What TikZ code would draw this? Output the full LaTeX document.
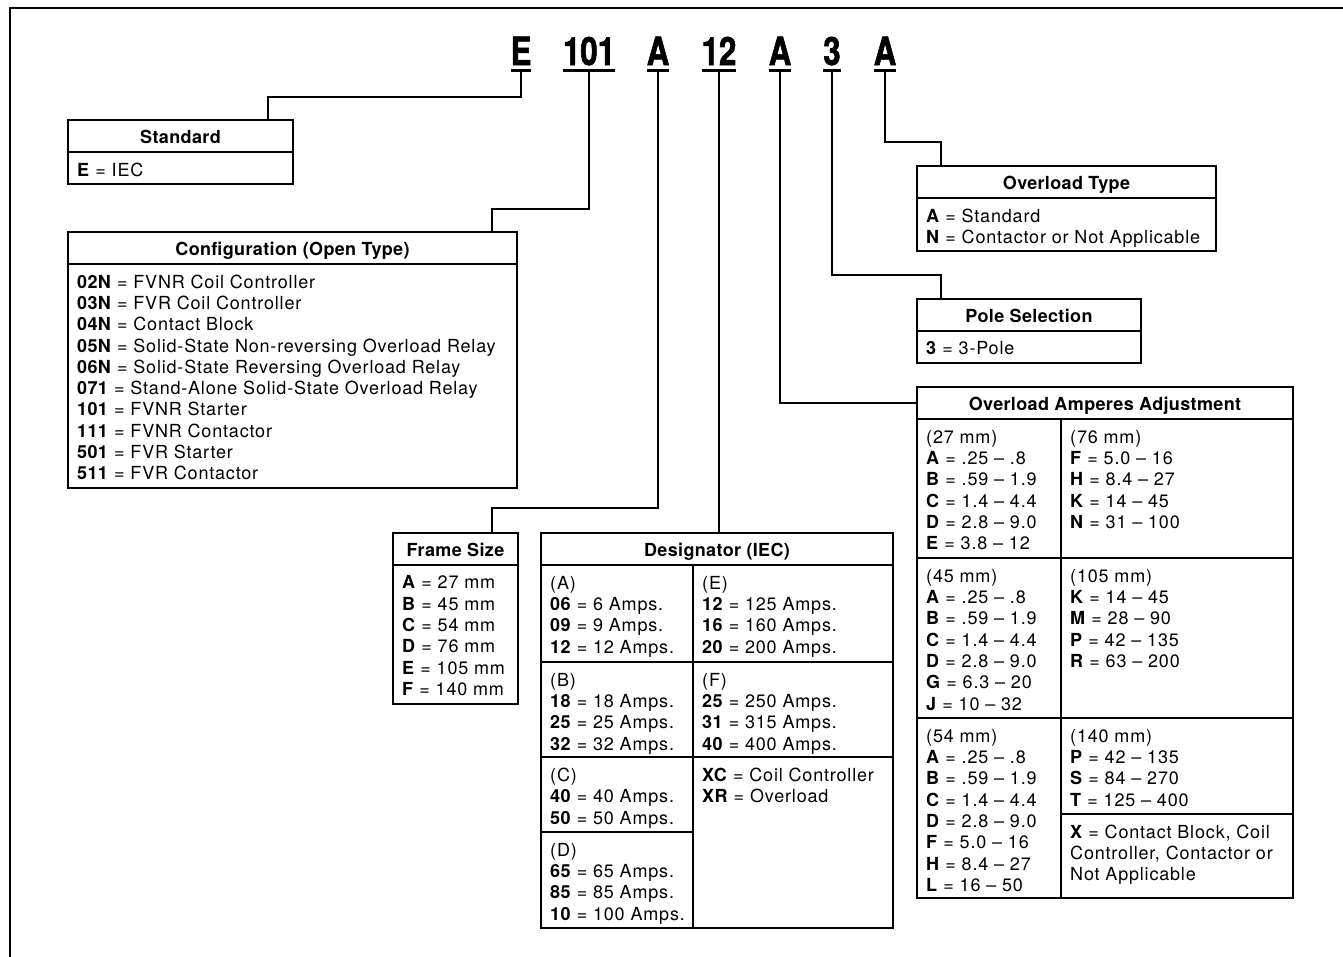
\documentclass[tikz,border=0pt]{standalone}
\usepackage{fontspec}
\setmainfont{TeX Gyre Heros}[LetterSpace=4.5, BoldFeatures={LetterSpace=2}]
\newfontfamily\codefont{TeX Gyre Heros}[FakeStretch=0.8, FakeBold=1.5]
\usetikzlibrary{positioning}
\newcommand{\diagfont}{\fontsize{18}{21.3}\selectfont}

\begin{document}
\begin{tikzpicture}[x=1pt, y=-1pt]

    \tikzstyle{hdr}   = [draw, line width=1.5pt, outer sep=0pt, inner sep=0pt, anchor=north west, minimum height=32pt, text height=15.6pt, text depth=0pt, font=\diagfont\bfseries]
    \tikzstyle{cell}  = [draw, line width=1.5pt, outer sep=0pt, inner sep=0pt, anchor=north west]
    \tikzstyle{txt}   = [inner sep=0pt, anchor=north west, align=left, font=\diagfont]
    \tikzstyle{code}  = [inner sep=0pt, outer sep=0pt, anchor=base, text depth=5pt, font=\codefont\bfseries\fontsize{39}{39}\selectfont]
    \tikzstyle{uline} = [line width=3pt]
    \tikzstyle{link}  = [line width=1.5pt]
    \tikzstyle{frame} = [line width=2.5pt]

    \useasboundingbox (0,0) rectangle (1343,956);
    \draw[frame] (1350,8) -| (10,960);

    % catalog number
    \node[code] (cE)   at (521,65) {E};
    \node[code] (c101) at (589,65) {101};
    \node[code] (cA1)  at (658,65) {A};
    \node[code] (c12)  at (719,65) {12};
    \node[code] (cA2)  at (780,65) {A};
    \node[code] (c3)   at (832,65) {3};
    \node[code] (cA3)  at (885,65) {A};
    \foreach \c in {cE,c101,cA1,c12,cA2,c3,cA3}
        \draw[uline] (\c.south west) -- (\c.south east);

    % standard
    \node[hdr, minimum width=225pt] (stdH) at (68,120) {Standard};
    \node[cell, minimum width=225pt, minimum height=32pt, below=0pt of stdH] (stdB) {};
    \node[txt] (stdT) at ([xshift=9pt, yshift=-10.5pt]stdB.north west) {\textbf{E} = IEC};

    % configuration
    \node[hdr, minimum width=449pt] (cfgH) at (68,232) {Configuration (Open Type)};
    \node[cell, minimum width=449pt, minimum height=224pt, below=0pt of cfgH] (cfgB) {};
    \node[txt] (cfgT) at ([xshift=9pt, yshift=-10.5pt]cfgB.north west) {%
        \textbf{02N} = FVNR Coil Controller\\
        \textbf{03N} = FVR Coil Controller\\
        \textbf{04N} = Contact Block\\
        \textbf{05N} = Solid-State Non-reversing Overload Relay\\
        \textbf{06N} = Solid-State Reversing Overload Relay\\
        \textbf{071} = Stand-Alone Solid-State Overload Relay\\
        \textbf{101} = FVNR Starter\\
        \textbf{111} = FVNR Contactor\\
        \textbf{501} = FVR Starter\\
        \textbf{511} = FVR Contactor};

    % frame size
    \node[hdr, minimum width=125pt] (frmH) at (393,533) {Frame Size};
    \node[cell, minimum width=125pt, minimum height=139pt, below=0pt of frmH] (frmB) {};
    \node[txt] (frmT) at ([xshift=9pt, yshift=-10.5pt]frmB.north west) {%
        \textbf{A} = 27 mm\\
        \textbf{B} = 45 mm\\
        \textbf{C} = 54 mm\\
        \textbf{D} = 76 mm\\
        \textbf{E} = 105 mm\\
        \textbf{F} = 140 mm};

    % designator
    \node[hdr, minimum width=352pt] (desH) at (541,533) {Designator (IEC)};
    \node[cell, minimum width=152pt, minimum height=97pt]  (desA) at (desH.south west) {};
    \node[cell, minimum width=152pt, minimum height=95pt]  (desB) at (desA.south west) {};
    \node[cell, minimum width=152pt, minimum height=75pt]  (desC) at (desB.south west) {};
    \node[cell, minimum width=152pt, minimum height=96pt]  (desD) at (desC.south west) {};
    \node[cell, minimum width=200pt, minimum height=97pt]  (desE) at (desA.north east) {};
    \node[cell, minimum width=200pt, minimum height=95pt]  (desF) at (desE.south west) {};
    \node[cell, minimum width=200pt, minimum height=171pt] (desX) at (desF.south west) {};
    \node[txt] (desAT) at ([xshift=9pt, yshift=-11pt]desA.north west) {(A)\\ \textbf{06} = 6 Amps.\\ \textbf{09} = 9 Amps.\\ \textbf{12} = 12 Amps.};
    \node[txt] (desBT) at ([xshift=9pt, yshift=-11pt]desB.north west) {(B)\\ \textbf{18} = 18 Amps.\\ \textbf{25} = 25 Amps.\\ \textbf{32} = 32 Amps.};
    \node[txt] (desCT) at ([xshift=9pt, yshift=-11pt]desC.north west) {(C)\\ \textbf{40} = 40 Amps.\\ \textbf{50} = 50 Amps.};
    \node[txt] (desDT) at ([xshift=9pt, yshift=-11pt]desD.north west) {(D)\\ \textbf{65} = 65 Amps.\\ \textbf{85} = 85 Amps.\\ \textbf{10} = 100 Amps.};
    \node[txt] (desET) at ([xshift=9pt, yshift=-11pt]desE.north west) {(E)\\ \textbf{12} = 125 Amps.\\ \textbf{16} = 160 Amps.\\ \textbf{20} = 200 Amps.};
    \node[txt] (desFT) at ([xshift=9pt, yshift=-11pt]desF.north west) {(F)\\ \textbf{25} = 250 Amps.\\ \textbf{31} = 315 Amps.\\ \textbf{40} = 400 Amps.};
    \node[txt] (desXT) at ([xshift=9pt, yshift=-10.5pt]desX.north west) {\textbf{XC} = Coil Controller\\ \textbf{XR} = Overload};

    % overload type
    \node[hdr, minimum width=299pt] (ovlH) at (917,166) {Overload Type};
    \node[cell, minimum width=299pt, minimum height=53pt, below=0pt of ovlH] (ovlB) {};
    \node[txt] (ovlT) at ([xshift=9pt, yshift=-10.5pt]ovlB.north west) {\textbf{A} = Standard\\ \textbf{N} = Contactor or Not Applicable};

    % pole selection
    \node[hdr, minimum width=224pt] (poleH) at (917,299) {Pole Selection};
    \node[cell, minimum width=224pt, minimum height=32pt, below=0pt of poleH] (poleB) {};
    \node[txt] (poleT) at ([xshift=9pt, yshift=-10.5pt]poleB.north west) {\textbf{3} = 3-Pole};

    % overload amperes
    \node[hdr, minimum width=376pt] (ampH) at (917,387) {Overload Amperes Adjustment};
    \node[cell, minimum width=144pt, minimum height=139pt] (amp27)  at (ampH.south west) {};
    \node[cell, minimum width=144pt, minimum height=160pt] (amp45)  at (amp27.south west) {};
    \node[cell, minimum width=144pt, minimum height=180pt] (amp54)  at (amp45.south west) {};
    \node[cell, minimum width=232pt, minimum height=139pt] (amp76)  at (amp27.north east) {};
    \node[cell, minimum width=232pt, minimum height=160pt] (amp105) at (amp76.south west) {};
    \node[cell, minimum width=232pt, minimum height=96pt]  (amp140) at (amp105.south west) {};
    \node[cell, minimum width=232pt, minimum height=84pt]  (ampX)   at (amp140.south west) {};
    \node[txt] (amp27T) at ([xshift=9pt, yshift=-11pt]amp27.north west) {(27 mm)\\ \textbf{A} = .25 – .8\\ \textbf{B} = .59 – 1.9\\ \textbf{C} = 1.4 – 4.4\\ \textbf{D} = 2.8 – 9.0\\ \textbf{E} = 3.8 – 12};
    \node[txt] (amp45T) at ([xshift=9pt, yshift=-11pt]amp45.north west) {(45 mm)\\ \textbf{A} = .25 – .8\\ \textbf{B} = .59 – 1.9\\ \textbf{C} = 1.4 – 4.4\\ \textbf{D} = 2.8 – 9.0\\ \textbf{G} = 6.3 – 20\\ \textbf{J} = 10 – 32};
    \node[txt] (amp54T) at ([xshift=9pt, yshift=-11pt]amp54.north west) {(54 mm)\\ \textbf{A} = .25 – .8\\ \textbf{B} = .59 – 1.9\\ \textbf{C} = 1.4 – 4.4\\ \textbf{D} = 2.8 – 9.0\\ \textbf{F} = 5.0 – 16\\ \textbf{H} = 8.4 – 27\\ \textbf{L} = 16 – 50};
    \node[txt] (amp76T) at ([xshift=9pt, yshift=-11pt]amp76.north west) {(76 mm)\\ \textbf{F} = 5.0 – 16\\ \textbf{H} = 8.4 – 27\\ \textbf{K} = 14 – 45\\ \textbf{N} = 31 – 100};
    \node[txt] (amp105T) at ([xshift=9pt, yshift=-11pt]amp105.north west) {(105 mm)\\ \textbf{K} = 14 – 45\\ \textbf{M} = 28 – 90\\ \textbf{P} = 42 – 135\\ \textbf{R} = 63 – 200};
    \node[txt] (amp140T) at ([xshift=9pt, yshift=-11pt]amp140.north west) {(140 mm)\\ \textbf{P} = 42 – 135\\ \textbf{S} = 84 – 270\\ \textbf{T} = 125 – 400};
    \node[txt] (ampXT) at ([xshift=9pt, yshift=-10.5pt]ampX.north west) {\textbf{X} = Contact Block, Coil\\ Controller, Contactor or\\ Not Applicable};

    % connectors
    \draw[link] (cE.south)   -- ++(0,27)  -| ([xshift=-25pt]stdH.north east);
    \draw[link] (c101.south) -- ++(0,139) -| ([xshift=-25pt]cfgH.north east);
    \draw[link] (cA1.south)  -- ++(0,438) -| ([xshift=-26pt]frmH.north east);
    \draw[link] (c12.south)  -- (c12.south |- desH.north);
    \draw[link] (cA2.south)  |- (ampH.west);
    \draw[link] (c3.south)   -- ++(0,205) -| ([xshift=24pt]poleH.north west);
    \draw[link] (cA3.south)  -- ++(0,72)  -| ([xshift=24pt]ovlH.north west);
\end{tikzpicture}
\end{document}
